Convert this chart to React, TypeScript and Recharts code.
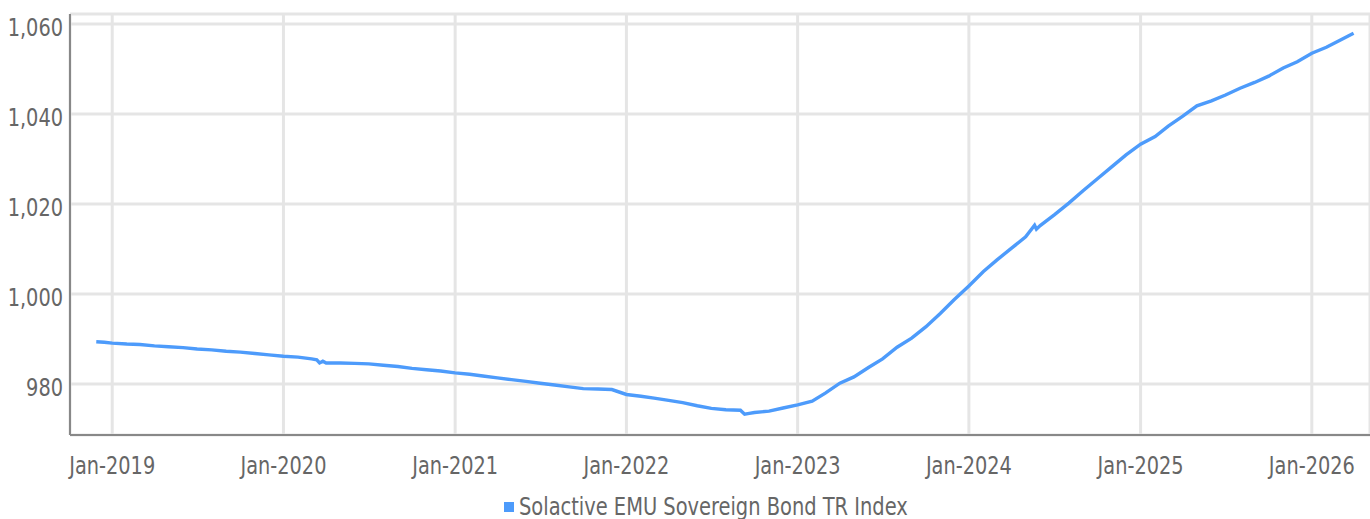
import React from 'react';
import { LineChart, Line, XAxis, YAxis, CartesianGrid } from 'recharts';

const dates = [
  '2018-11-28', '2018-12-15',
  '2019-01-01', '2019-02-01', '2019-03-01', '2019-04-01', '2019-05-01', '2019-06-01',
  '2019-07-01', '2019-08-01', '2019-09-01', '2019-10-01', '2019-11-01', '2019-12-01',
  '2020-01-01', '2020-02-01', '2020-03-01', '2020-03-12', '2020-03-18', '2020-03-25',
  '2020-04-01', '2020-05-01', '2020-06-01', '2020-07-01', '2020-08-01', '2020-09-01',
  '2020-10-01', '2020-11-01', '2020-12-01',
  '2021-01-01', '2021-02-01', '2021-03-01', '2021-04-01', '2021-05-01', '2021-06-01',
  '2021-07-01', '2021-08-01', '2021-09-01', '2021-10-01', '2021-11-01', '2021-12-01',
  '2022-01-01', '2022-02-01', '2022-03-01', '2022-04-01', '2022-05-01', '2022-06-01',
  '2022-07-01', '2022-08-01', '2022-09-01', '2022-09-10', '2022-09-20', '2022-10-01',
  '2022-11-01', '2022-12-01',
  '2023-01-01', '2023-02-01', '2023-03-01', '2023-04-01', '2023-05-01', '2023-06-01',
  '2023-07-01', '2023-08-01', '2023-09-01', '2023-10-01', '2023-11-01', '2023-12-01',
  '2024-01-01', '2024-02-01', '2024-03-01', '2024-04-01', '2024-05-01', '2024-05-20',
  '2024-05-24', '2024-06-01', '2024-07-01', '2024-08-01', '2024-09-01', '2024-10-01',
  '2024-11-01', '2024-12-01',
  '2025-01-01', '2025-02-01', '2025-03-01', '2025-04-01', '2025-05-01', '2025-06-01',
  '2025-07-01', '2025-08-01', '2025-09-01', '2025-10-01', '2025-11-01', '2025-12-01',
  '2026-01-01', '2026-02-01', '2026-03-01', '2026-03-31',
];

const indexValues = [
  989.4, 989.3,
  989.1, 988.9, 988.8, 988.5, 988.3, 988.1,
  987.8, 987.6, 987.3, 987.1, 986.8, 986.5,
  986.2, 986.0, 985.6, 985.4, 984.7, 985.1,
  984.7, 984.7, 984.6, 984.5, 984.2, 983.9,
  983.5, 983.2, 982.9,
  982.5, 982.2, 981.8, 981.4, 981.0, 980.6,
  980.2, 979.8, 979.4, 979.0, 978.9, 978.8,
  977.7, 977.3, 976.9, 976.4, 975.9, 975.2,
  974.6, 974.3, 974.2, 973.3, 973.5, 973.7,
  974.0, 974.7,
  975.4, 976.2, 978.0, 980.2, 981.6, 983.7,
  985.6, 988.2, 990.2, 992.7, 995.7, 998.8,
  1001.8, 1005.0, 1007.6, 1010.2, 1012.7, 1015.3,
  1014.4, 1015.2, 1017.6, 1020.2, 1023.0, 1025.6,
  1028.3, 1030.9,
  1033.3, 1035.0, 1037.3, 1039.5, 1041.8, 1042.9,
  1044.2, 1045.7, 1047.0, 1048.4, 1050.2, 1051.6,
  1053.5, 1054.8, 1056.3, 1057.9,
];

const xTickDates = ['2019-01-01', '2020-01-01', '2021-01-01', '2022-01-01', '2023-01-01', '2024-01-01', '2025-01-01', '2026-01-01'];
const yTicks = [980, 1000, 1020, 1040, 1060];
const seriesName = 'Solactive EMU Sovereign Bond TR Index';
const monthNames = ['Jan', 'Feb', 'Mar', 'Apr', 'May', 'Jun', 'Jul', 'Aug', 'Sep', 'Oct', 'Nov', 'Dec'];

const toTs = (d: string) => Date.parse(d + 'T00:00:00Z');

const data = dates.map((d, i) => ({ t: toTs(d), value: indexValues[i] }));
const xTicks = xTickDates.map(toTs);

const FONT = "'DejaVu Sans Condensed', 'Liberation Sans Narrow', sans-serif";
const TEXT_COLOR = '#666';
const LINE_COLOR = '#4d9bfb';
const SQUEEZE = 0.86;

const formatDate = (ts: number) => {
  const d = new Date(ts);
  return `${monthNames[d.getUTCMonth()]}-${d.getUTCFullYear()}`;
};

const XTick = (props: any) => {
  const { x, y, payload } = props;
  return (
    <g transform={`translate(${x},${y + 31})`}>
      <text transform={`scale(${SQUEEZE},1)`} textAnchor="middle" fill={TEXT_COLOR} fontSize={25} fontFamily={FONT}>
        {formatDate(payload.value)}
      </text>
    </g>
  );
};

const YTick = (props: any) => {
  const { x, y, payload } = props;
  return (
    <g transform={`translate(${x + 1},${y + 12})`}>
      <text transform={`scale(${SQUEEZE},1)`} textAnchor="end" fill={TEXT_COLOR} fontSize={25} fontFamily={FONT}>
        {Number(payload.value).toLocaleString('en-US')}
      </text>
    </g>
  );
};

const App: React.FC = () => {
  return (
    <div style={{ position: 'absolute', left: 0, top: 0, width: 1370, height: 519, background: '#fff', fontFamily: FONT }}>
      <LineChart
        width={1370}
        height={519}
        data={data}
        margin={{ top: 14, right: 0, left: 0, bottom: 44 }}
      >
        <CartesianGrid stroke="#e5e5e5" strokeWidth={3} />
        <XAxis
          dataKey="t"
          type="number"
          scale="time"
          domain={[toTs('2018-10-03'), toTs('2026-05-05')]}
          ticks={xTicks}
          tick={<XTick />}
          height={40}
          tickLine={false}
          axisLine={{ stroke: '#888', strokeWidth: 2 }}
          allowDataOverflow
        />
        <YAxis
          type="number"
          domain={[968.7, 1062.2]}
          ticks={yTicks}
          tick={<YTick />}
          width={70}
          tickLine={false}
          axisLine={{ stroke: '#888', strokeWidth: 2 }}
          allowDataOverflow
        />
        <Line
          type="linear"
          dataKey="value"
          name={seriesName}
          stroke={LINE_COLOR}
          strokeWidth={3.4}
          dot={false}
          isAnimationActive={false}
        />
      </LineChart>
      <div
        style={{
          position: 'absolute',
          left: 504,
          top: 493,
          display: 'flex',
          alignItems: 'center',
          fontSize: 24,
          color: TEXT_COLOR,
          whiteSpace: 'nowrap',
        }}
      >
        <span style={{ display: 'inline-block', width: 10, height: 10, background: LINE_COLOR, marginRight: 5 }} />
        <span style={{ display: 'inline-block', transform: 'scaleX(0.9)', transformOrigin: 'left center' }}>{seriesName}</span>
      </div>
    </div>
  );
};

export default App;
